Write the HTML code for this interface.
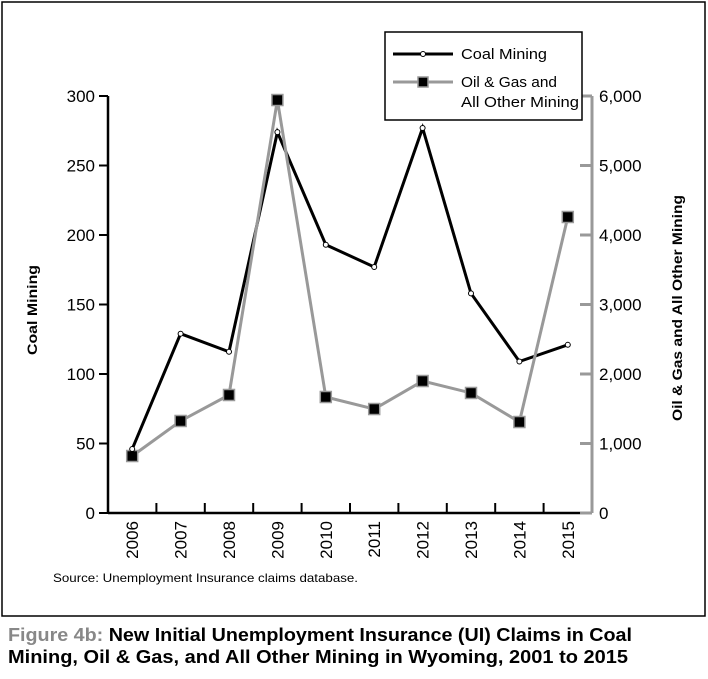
<!DOCTYPE html>
<html><head><meta charset="utf-8"><style>
body{margin:0;background:#fff;font-family:"Liberation Sans",sans-serif}
</style></head><body>
<svg width="708" height="674" xmlns="http://www.w3.org/2000/svg" font-family="Liberation Sans, sans-serif">
<rect x="2" y="2" width="703" height="614" fill="#fff" stroke="#000" stroke-width="1.5"/>
<g id="axes"></g>
<g id="marks"></g>
<g>
<rect x="385" y="32" width="197" height="88" fill="#fff" stroke="#000" stroke-width="1.5"/>
<line x1="393" y1="54" x2="453" y2="54" stroke="#000" stroke-width="3"/>
<circle cx="423" cy="54" r="2.5" fill="#fff" stroke="#000"/>
<text x="461" y="59" font-size="15" textLength="86" lengthAdjust="spacingAndGlyphs">Coal Mining</text>
<line x1="393" y1="82" x2="453" y2="82" stroke="#999" stroke-width="3"/>
<rect x="418" y="77" width="10" height="10" fill="#000" stroke="#999" stroke-width="1.5"/>
<text x="461" y="87" font-size="15" textLength="96" lengthAdjust="spacingAndGlyphs">Oil &amp; Gas and</text>
<text x="461" y="107" font-size="15" textLength="118" lengthAdjust="spacingAndGlyphs">All Other Mining</text>
</g>
<text x="37" y="310" font-size="14" font-weight="bold" transform="rotate(-90 37 310)" text-anchor="middle" textLength="90" lengthAdjust="spacingAndGlyphs">Coal Mining</text>
<text x="682" y="308" font-size="14" font-weight="bold" transform="rotate(-90 682 308)" text-anchor="middle" textLength="226" lengthAdjust="spacingAndGlyphs">Oil &amp; Gas and All Other Mining</text>
<text x="53" y="582" font-size="12" textLength="305" lengthAdjust="spacingAndGlyphs">Source: Unemployment Insurance claims database.</text>
<text x="8" y="641" font-size="18" font-weight="bold" textLength="624" lengthAdjust="spacingAndGlyphs"><tspan fill="#888">Figure 4b:</tspan> New Initial Unemployment Insurance (UI) Claims in Coal</text>
<text x="8" y="663" font-size="18" font-weight="bold" textLength="620" lengthAdjust="spacingAndGlyphs">Mining, Oil &amp; Gas, and All Other Mining in Wyoming, 2001 to 2015</text>
</svg>
<script>
const years=["2006","2007","2008","2009","2010","2011","2012","2013","2014","2015"];
const coal=[46,129,116,274,193,177,277,158,109,121];
const oil=[820,1324,1698,5942,1669,1496,1899,1727,1309,4259];
const leftTicks=[0,50,100,150,200,250,300];
const rightTicks=[0,1000,2000,3000,4000,5000,6000];
const NS="http://www.w3.org/2000/svg";
const X0=108,X1=592,Y0=513,Y1=96;
const step=(X1-X0)/years.length;
const xs=i=>X0+step*(i+0.5);
const yl=v=>Y0-(v/300)*(Y0-Y1);
const yr=v=>Y0-(v/6000)*(Y0-Y1);
function mk(tag,attrs,parent,text){const e=document.createElementNS(NS,tag);for(const k in attrs)e.setAttribute(k,attrs[k]);if(text!==undefined)e.textContent=text;parent.appendChild(e);return e;}
const ax=document.getElementById('axes'),mg=document.getElementById('marks');
let e=mk('line',{x1:X0,y1:Y1,x2:X0,y2:Y0,stroke:'#000','stroke-width':2.5},ax);


e=mk('line',{x1:X0,y1:Y0,x2:X1,y2:Y0,stroke:'#000','stroke-width':2.5},ax);


e=mk('line',{x1:X1,y1:Y1,x2:X1,y2:Y0,stroke:'#999','stroke-width':3},ax);


leftTicks.forEach(v=>{mk('line',{x1:X0-9,y1:yl(v),x2:X0,y2:yl(v),stroke:'#000','stroke-width':2},ax);
e=mk('text',{x:X0-13,y:yl(v)+6,'font-size':17,'text-anchor':'end'},ax,v);

});
rightTicks.forEach(v=>{mk('line',{x1:X1-12,y1:yr(v),x2:X1,y2:yr(v),stroke:'#999','stroke-width':3},ax);
e=mk('text',{x:X1+7,y:yr(v)+6,'font-size':17},ax,v.toLocaleString('en-US'));

});
years.forEach((y,i)=>{if(i>0)mk('line',{x1:X0+step*i,y1:Y0,x2:X0+step*i,y2:Y0-10,stroke:'#000','stroke-width':2},ax);
const tx=xs(i)+6,ty=Y0+8;
e=mk('text',{x:tx,y:ty,'font-size':17,'text-anchor':'end',transform:`rotate(-90 ${tx} ${ty})`},ax,y);

});
e=mk('polyline',{points:coal.map((v,i)=>xs(i)+','+yl(v)).join(' '),fill:'none',stroke:'#000','stroke-width':3},mg);


e=mk('polyline',{points:oil.map((v,i)=>xs(i)+','+yr(v)).join(' '),fill:'none',stroke:'#999','stroke-width':3},mg);


oil.forEach((v,i)=>{e=mk('rect',{x:xs(i)-5.5,y:yr(v)-5.5,width:11,height:11,fill:'#000',stroke:'#999','stroke-width':1.5},mg);

});
coal.forEach((v,i)=>{e=mk('circle',{cx:xs(i),cy:yl(v),r:2.5,fill:'#fff',stroke:'#000','stroke-width':1},mg);

});
</script>
</body></html>
